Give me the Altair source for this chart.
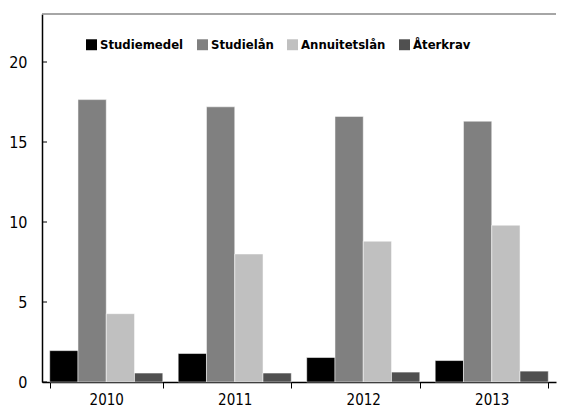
import altair as alt
import pandas as pd

years = ["2010", "2011", "2012", "2013"]
series = ["Studiemedel", "Studielån", "Annuitetslån", "Återkrav"]
studiemedel = [1.96, 1.78, 1.53, 1.34]
studielan = [17.65, 17.2, 16.6, 16.3]
annuitetslan = [4.27, 8.0, 8.8, 9.8]
aterkrav = [0.56, 0.56, 0.62, 0.68]
colors = ["#000000", "#808080", "#c0c0c0", "#505050"]
yticks = [0, 5, 10, 15, 20]
ymax = 23

rows = []
for s, vals in zip(series, [studiemedel, studielan, annuitetslan, aterkrav]):
    for y, v in zip(years, vals):
        rows.append({"year": y, "series": s, "value": v})
df = pd.DataFrame(rows)

FONT = "DejaVu Sans Condensed, Liberation Sans Narrow, sans-serif"

xscale = alt.Scale(paddingInner=0.12, paddingOuter=0.06)
yscale = alt.Scale(domain=[0, ymax], nice=False)

bars = alt.Chart(df).mark_bar(stroke="white", strokeWidth=0.5).encode(
    x=alt.X("year:N", scale=xscale, sort=years,
            axis=alt.Axis(title=None, labelAngle=0, tickBand="extent", tickSize=6,
                          tickColor="#000", domainColor="#000", labelFontSize=15,
                          labelFont=FONT, labelColor="#000", labelPadding=4, domainWidth=1.5)),
    xOffset=alt.XOffset("series:N", sort=series, scale=alt.Scale(paddingInner=0, paddingOuter=0)),
    y=alt.Y("value:Q", scale=yscale,
            axis=alt.Axis(title=None, values=yticks, grid=False, tickSize=0,
                          domainColor="#000", labelFontSize=16, labelFont=FONT,
                          labelColor="#000", labelPadding=15, domainWidth=1.5)),
    color=alt.Color("series:N", sort=series,
                    scale=alt.Scale(domain=series, range=colors),
                    legend=alt.Legend(title=None, orient="none", direction="horizontal",
                                      legendX=43, legendY=24, symbolType="square",
                                      symbolSize=120, symbolStrokeWidth=0,
                                      labelFont=FONT, labelFontSize=13, labelFontWeight="bold",
                                      labelColor="#000", columnPadding=12, labelOffset=2)),
)

tdf = pd.DataFrame({"t": yticks})
inticks = alt.Chart(tdf).mark_rule(color="#000", strokeWidth=1).encode(
    y=alt.Y("t:Q", scale=yscale), x=alt.value(0), x2=alt.value(5)
)

topdf = pd.DataFrame({"t": [ymax]})
topline = alt.Chart(topdf).mark_rule(color="#888", strokeWidth=1.5).encode(
    y=alt.Y("t:Q", scale=yscale)
)

chart = alt.layer(bars, inticks, topline).properties(
    width=514, height=368,
    padding={"left": 0, "top": 5, "right": 0, "bottom": 0},
).configure_view(stroke=None)

chart.save("out.html", embed_options={"renderer": "svg", "actions": False})
